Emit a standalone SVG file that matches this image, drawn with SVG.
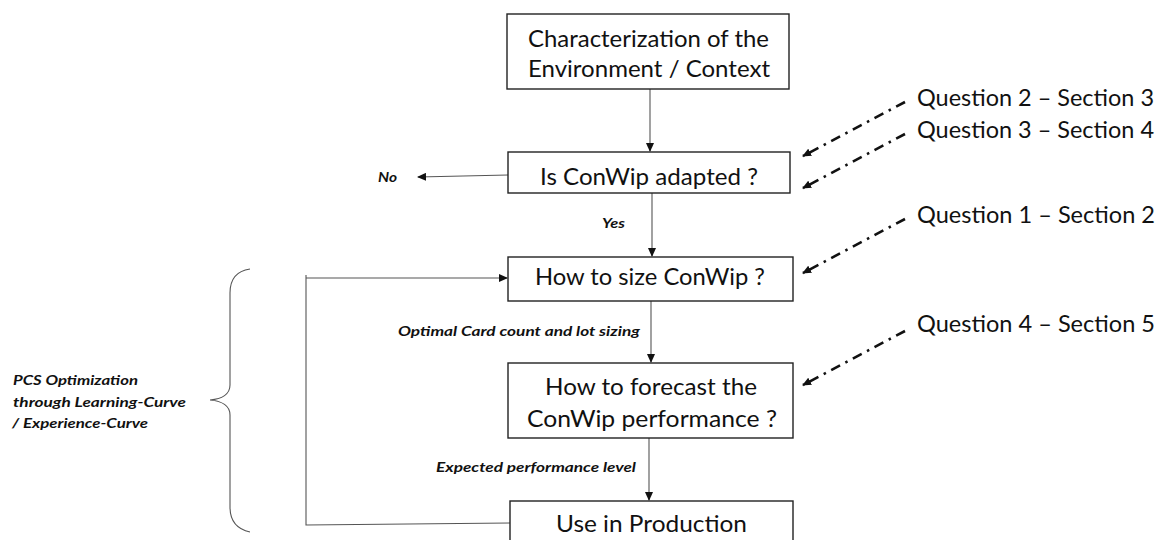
<svg xmlns="http://www.w3.org/2000/svg" width="1163" height="540" viewBox="0 0 1163 540">
<defs>
<style>
.box{fill:#fff;stroke:#222;stroke-width:1.4}
.bt{font-family:Lato,"Open Sans","Liberation Sans",sans-serif;font-size:24px;fill:#111}
.qt{font-family:Lato,"Open Sans","Liberation Sans",sans-serif;font-size:24px;fill:#111}
.lb{font-family:Lato,"Open Sans","Liberation Sans",sans-serif;font-size:14px;font-weight:bold;font-style:italic;fill:#111}
.cn{fill:none;stroke:#555;stroke-width:1.1}
.dd{fill:none;stroke:#111;stroke-width:2.6;stroke-dasharray:10 6 2.5 6}
</style>
<marker id="ah" markerWidth="9" markerHeight="8" refX="8" refY="4" orient="auto" markerUnits="userSpaceOnUse">
<path d="M0,0 L9,4 L0,8 Z" fill="#111"/>
</marker>
<marker id="ad" markerWidth="9" markerHeight="8" refX="8" refY="4" orient="auto" markerUnits="userSpaceOnUse">
<path d="M0,0 L9,4 L0,8 Z" fill="#111"/>
</marker>
</defs>
<rect width="1163" height="540" fill="#fff"/>

<g id="connectors">
<line class="cn" x1="650" y1="89" x2="650" y2="151" marker-end="url(#ah)"/>
<line class="cn" x1="508" y1="175" x2="418" y2="177" marker-end="url(#ah)"/>
<line class="cn" x1="652" y1="193" x2="652" y2="256" marker-end="url(#ah)"/>
<line class="cn" x1="651" y1="301" x2="651" y2="362" marker-end="url(#ah)"/>
<line class="cn" x1="649" y1="438" x2="649" y2="500" marker-end="url(#ah)"/>
<polyline class="cn" points="510,523 306,525 306,275"/>
<line class="cn" x1="306" y1="278" x2="507" y2="278" marker-end="url(#ah)"/>
<path class="cn" d="M250,269 C236,271 230,280 230,293 L230,385 C230,394 222,399 210,400 C222,401 230,406 230,415 L230,507 C230,520 236,529 250,532" stroke="#777"/>
<line class="dd" x1="905" y1="102" x2="803" y2="156" marker-end="url(#ad)"/>
<line class="dd" x1="905" y1="134" x2="803" y2="188" marker-end="url(#ad)"/>
<line class="dd" x1="905" y1="219" x2="803" y2="273" marker-end="url(#ad)"/>
<line class="dd" x1="905" y1="331" x2="803" y2="385" marker-end="url(#ad)"/>
</g>

<g id="node-characterization">
<rect class="box" x="507" y="14" width="282" height="75"/>
<text class="bt" x="528" y="47" textLength="241" lengthAdjust="spacingAndGlyphs">Characterization of the</text>
<text class="bt" x="528" y="77" textLength="242" lengthAdjust="spacingAndGlyphs">Environment / Context</text>
</g>
<g id="node-adapted">
<rect class="box" x="508" y="152" width="282" height="41"/>
<text class="bt" x="540" y="185" textLength="218" lengthAdjust="spacingAndGlyphs">Is ConWip adapted ?</text>
</g>
<g id="node-size">
<rect class="box" x="508" y="257" width="285" height="44"/>
<text class="bt" x="535" y="285" textLength="230" lengthAdjust="spacingAndGlyphs">How to size ConWip ?</text>
</g>
<g id="node-forecast">
<rect class="box" x="508" y="363" width="285" height="75"/>
<text class="bt" x="545" y="395" textLength="212" lengthAdjust="spacingAndGlyphs">How to forecast the</text>
<text class="bt" x="527" y="427" textLength="250" lengthAdjust="spacingAndGlyphs">ConWip performance ?</text>
</g>
<g id="node-production">
<rect class="box" x="510" y="501" width="283" height="46"/>
<text class="bt" x="556" y="532" textLength="191" lengthAdjust="spacingAndGlyphs">Use in Production</text>
</g>

<g id="questions">
<text class="qt" x="917" y="106" textLength="237" lengthAdjust="spacingAndGlyphs">Question 2 – Section 3</text>
<text class="qt" x="917" y="138" textLength="237" lengthAdjust="spacingAndGlyphs">Question 3 – Section 4</text>
<text class="qt" x="917" y="223" textLength="238" lengthAdjust="spacingAndGlyphs">Question 1 – Section 2</text>
<text class="qt" x="917" y="332" textLength="238" lengthAdjust="spacingAndGlyphs">Question 4 – Section 5</text>
</g>

<g id="labels">
<text class="lb" x="378" y="182" textLength="19" lengthAdjust="spacingAndGlyphs">No</text>
<text class="lb" x="602" y="228" textLength="23" lengthAdjust="spacingAndGlyphs">Yes</text>
<text class="lb" x="398" y="336" textLength="242" lengthAdjust="spacingAndGlyphs">Optimal Card count and lot sizing</text>
<text class="lb" x="436" y="472" textLength="200" lengthAdjust="spacingAndGlyphs">Expected performance level</text>
<text class="lb" x="13" y="385" textLength="125" lengthAdjust="spacingAndGlyphs">PCS Optimization</text>
<text class="lb" x="13" y="407" textLength="173" lengthAdjust="spacingAndGlyphs">through Learning-Curve</text>
<text class="lb" x="12" y="428" textLength="136" lengthAdjust="spacingAndGlyphs">/ Experience-Curve</text>
</g>
</svg>
